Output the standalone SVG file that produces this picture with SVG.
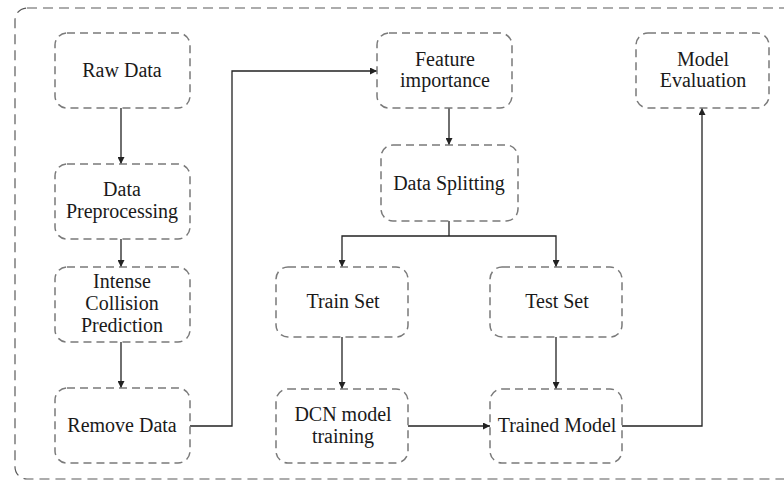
<svg xmlns="http://www.w3.org/2000/svg" width="784" height="481" viewBox="0 0 784 481">
<style>
.frame{fill:none;stroke:#5a5a5a;stroke-width:1.2;stroke-dasharray:10 6}
.node rect{fill:#fff;stroke:#7a7a7a;stroke-width:1.5;stroke-dasharray:8 5}
.node text{font-family:"Liberation Serif","Times New Roman",serif;font-size:20px;fill:#1a1a1a;text-anchor:middle}
.conn path{fill:none;stroke:#222;stroke-width:1.3}
</style>
<defs>
<marker id="arr" viewBox="0 0 10 10" refX="10" refY="5" markerWidth="7" markerHeight="7" markerUnits="userSpaceOnUse" orient="auto">
<path d="M0,0 L10,5 L0,10 z" fill="#222"/>
</marker>
</defs>
<rect class="frame" x="15" y="8" width="785" height="471" rx="12"/>
<g class="conn">
<path d="M121,108 V164" marker-end="url(#arr)"/>
<path d="M121,239 V267" marker-end="url(#arr)"/>
<path d="M121,342 V388" marker-end="url(#arr)"/>
<path d="M190,426 H232 V71 H377" marker-end="url(#arr)"/>
<path d="M449,108 V145" marker-end="url(#arr)"/>
<path d="M449,221 V236"/>
<path d="M449,236 H342 V267" marker-end="url(#arr)"/>
<path d="M449,236 H556 V267" marker-end="url(#arr)"/>
<path d="M342,337 V389" marker-end="url(#arr)"/>
<path d="M556,337 V389" marker-end="url(#arr)"/>
<path d="M408,426 H490" marker-end="url(#arr)"/>
<path d="M622,426 H702 V108" marker-end="url(#arr)"/>
</g>
<g id="raw-data" class="node"><rect x="55" y="33" width="135" height="75" rx="12"/><text x="122" y="77">Raw Data</text></g>
<g id="data-preprocessing" class="node"><rect x="55" y="164" width="135" height="75" rx="12"/><text x="122" y="196">Data</text><text x="122" y="218">Preprocessing</text></g>
<g id="intense-collision-prediction" class="node"><rect x="55" y="267" width="135" height="75" rx="12"/><text x="122" y="288">Intense</text><text x="122" y="310">Collision</text><text x="122" y="332">Prediction</text></g>
<g id="remove-data" class="node"><rect x="55" y="388" width="135" height="75" rx="12"/><text x="122" y="432">Remove Data</text></g>
<g id="feature-importance" class="node"><rect x="377" y="33" width="135" height="75" rx="12"/><text x="445" y="66">Feature</text><text x="445" y="87">importance</text></g>
<g id="data-splitting" class="node"><rect x="381" y="145" width="137" height="76" rx="12"/><text x="449" y="190">Data Splitting</text></g>
<g id="train-set" class="node"><rect x="276" y="267" width="132" height="70" rx="12"/><text x="343" y="308">Train Set</text></g>
<g id="test-set" class="node"><rect x="490" y="267" width="132" height="70" rx="12"/><text x="557" y="308">Test Set</text></g>
<g id="dcn-model-training" class="node"><rect x="276" y="389" width="132" height="74" rx="12"/><text x="343" y="421">DCN model</text><text x="343" y="443">training</text></g>
<g id="trained-model" class="node"><rect x="490" y="389" width="132" height="74" rx="12"/><text x="557" y="432">Trained Model</text></g>
<g id="model-evaluation" class="node"><rect x="636" y="33" width="133" height="75" rx="12"/><text x="703" y="66">Model</text><text x="703" y="87">Evaluation</text></g>
</svg>
